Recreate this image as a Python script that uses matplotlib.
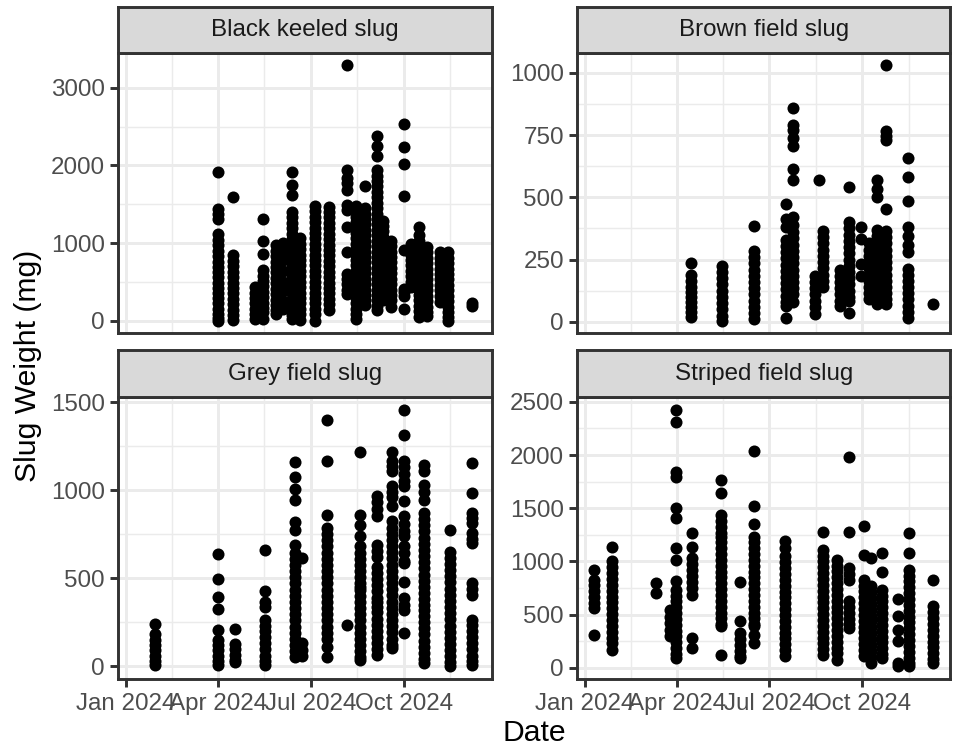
import numpy as np
import pandas as pd
import matplotlib
matplotlib.use('Agg')
import matplotlib.pyplot as plt
import matplotlib.dates as mdates
from matplotlib.ticker import FixedLocator

plt.rcParams['font.family'] = ['Liberation Sans', 'DejaVu Sans']

# ---- datos (peso en mg por fecha de muestreo) ----
black_dates = ['2024-04-01', '2024-04-15', '2024-05-07', '2024-05-15', '2024-05-28', '2024-06-04',
               '2024-06-13', '2024-06-21', '2024-07-05', '2024-07-19', '2024-08-06', '2024-08-15',
               '2024-08-24', '2024-09-05', '2024-09-10', '2024-09-18', '2024-10-01', '2024-10-08',
               '2024-10-16', '2024-10-24', '2024-11-06', '2024-11-14', '2024-12-07']
black_weights = [
    [1910, 1440, 1380, 1310, 1120, 1040, 980, 900, 830, 760, 690, 620, 560, 490, 420, 350, 290, 220, 150, 90, 30, 0],
    [1590, 840, 770, 700, 630, 560, 490, 420, 350, 280, 210, 140, 70, 10],
    [430, 360, 290, 220, 150, 80, 20],
    [1310, 1020, 860, 650, 580, 510, 440, 370, 300, 230, 160, 110, 20],
    [970, 900, 830, 760, 690, 620, 550, 480, 410, 340, 270, 200, 130, 90],
    [1000, 900, 780, 640, 500, 380, 250, 150],
    [1910, 1750, 1620, 1400, 1330, 1260, 1190, 1120, 1050, 980, 910, 840, 770, 700, 630, 560, 490, 420, 350, 280, 210, 140, 70, 20],
    [1060, 990, 920, 850, 780, 710, 640, 570, 500, 430, 360, 290, 220, 150, 80, 10],
    [1480, 1410, 1340, 1270, 1200, 1130, 1060, 990, 920, 850, 780, 710, 640, 570, 500, 430, 360, 290, 220, 150, 80, 0],
    [1470, 1400, 1330, 1260, 1190, 1120, 1050, 980, 910, 840, 770, 700, 630, 560, 490, 420, 350, 280, 210, 140],
    [3290, 1940, 1840, 1780, 1680, 1490, 1420, 1210, 890, 600, 540, 470, 400, 340],
    [1480, 1410, 1340, 1270, 1200, 1130, 1060, 990, 920, 850, 780, 710, 640, 570, 500, 430, 360, 290, 220, 150, 80, 20],
    [1730, 1450, 1380, 1310, 1240, 1170, 1100, 1030, 960, 890, 820, 750, 680, 610, 540, 470, 400, 330, 260, 200],
    [2380, 2250, 2120, 1940, 1870, 1800, 1730, 1660, 1590, 1520, 1450, 1380, 1310, 1240, 1170, 1100, 1030, 960, 890,
     820, 750, 680, 610, 540, 470, 400, 330, 260, 190, 130],
    [1290, 1220, 1150, 1080, 1010, 940, 870, 800, 730, 660, 590, 520, 450, 380, 310, 260],
    [1030, 960, 890, 820, 750, 680, 610, 540, 470, 400, 330, 260, 180],
    [2530, 2240, 2020, 1600, 910, 410, 370, 320, 150],
    [990, 920, 850, 780, 710, 640, 570, 500, 430],
    [1210, 1100, 1030, 960, 890, 820, 750, 680, 610, 540, 470, 400, 330, 260, 190, 120, 50],
    [950, 880, 810, 740, 670, 600, 530, 460, 390, 320, 250, 180, 110, 60],
    [880, 810, 740, 670, 600, 530, 460, 390, 320, 240],
    [880, 810, 740, 670, 600, 530, 460, 390, 320, 250, 180, 110, 40, 0],
    [230, 190],
]

brown_dates = ['2024-04-15', '2024-05-15', '2024-06-16', '2024-07-18', '2024-07-25', '2024-08-15',
               '2024-08-19', '2024-08-23', '2024-09-09', '2024-09-18', '2024-09-30', '2024-10-08',
               '2024-10-16', '2024-10-24', '2024-11-15', '2024-12-10']
brown_weights = [
    [236, 190, 165, 140, 120, 100, 80, 60, 40, 20],
    [225, 200, 175, 150, 125, 100, 75, 50, 25, 5],
    [385, 285, 260, 235, 210, 185, 160, 135, 110, 85, 60, 35, 10],
    [475, 415, 380, 330, 305, 280, 255, 230, 205, 180, 155, 130, 105, 80, 65, 15],
    [860, 790, 770, 740, 705, 615, 570, 420, 390, 360, 335, 310, 285, 260, 235, 210, 185, 160, 135, 110, 80],
    [185, 160, 135, 110, 85, 60, 30],
    [568],
    [365, 340, 315, 290, 265, 240, 215, 190, 165, 140],
    [210, 185, 160, 135, 110, 85, 63],
    [540, 400, 375, 350, 325, 300, 275, 250, 225, 200, 175, 150, 125, 100, 84, 36],
    [380, 333, 232, 185],
    [315, 290, 265, 240, 215, 190, 165, 140, 115, 90],
    [570, 535, 500, 370, 345, 320, 295, 270, 245, 220, 195, 170, 145, 120, 95, 70],
    [1030, 767, 745, 730, 452, 365, 340, 315, 290, 265, 240, 215, 190, 165, 140, 115, 90, 70],
    [657, 581, 485, 380, 345, 310, 280, 212, 190, 165, 140, 115, 90, 65, 40, 15],
    [70],
]

grey_dates = ['2024-01-29', '2024-04-01', '2024-04-17', '2024-05-17', '2024-06-16', '2024-06-23',
              '2024-07-17', '2024-08-06', '2024-08-19', '2024-09-05', '2024-09-19', '2024-10-01',
              '2024-10-21', '2024-11-16', '2024-12-07']
grey_weights = [
    [239, 180, 150, 120, 90, 60, 30, 8],
    [638, 495, 395, 323, 205, 150, 120, 90, 60, 30, 6],
    [211, 125, 95, 65, 35, 25],
    [659, 429, 366, 338, 262, 230, 200, 165, 130, 95, 60, 30, 6],
    [1158, 1073, 1006, 945, 816, 775, 689, 642, 610, 575, 540, 505, 470, 435, 400, 365, 330, 295, 260, 225,
     190, 155, 120, 85, 53],
    [613, 129, 90, 60],
    [1397, 1164, 860, 784, 750, 715, 680, 645, 610, 575, 540, 505, 470, 435, 400, 365, 330, 295, 260, 225,
     190, 155, 110, 53],
    [234],
    [1215, 860, 800, 740, 680, 645, 610, 575, 540, 505, 470, 452, 435, 400, 365, 330, 295, 260, 225, 190,
     155, 120, 85, 50, 34],
    [964, 930, 890, 850, 689, 655, 622, 566, 530, 495, 460, 425, 390, 366, 338, 305, 270, 235, 200, 165, 130, 95, 63],
    [1215, 1164, 1135, 1107, 1021, 990, 960, 907, 822, 787, 752, 717, 682, 647, 612, 577, 542, 507, 472, 437,
     402, 367, 332, 297, 262, 227, 192, 157, 122, 101],
    [1454, 1315, 1164, 1130, 1090, 1050, 1021, 936, 850, 810, 770, 737, 680, 640, 600, 585, 480, 385, 350, 319, 186],
    [1145, 1107, 1031, 990, 945, 870, 835, 800, 765, 730, 695, 660, 625, 590, 555, 520, 485, 450, 415, 380,
     345, 319, 285, 250, 215, 180, 145, 110, 75, 40, 20],
    [775, 651, 616, 581, 546, 511, 476, 441, 406, 371, 336, 301, 266, 231, 196, 161, 126, 91, 56, 21, 0],
    [1154, 983, 870, 840, 812, 755, 725, 699, 471, 440, 404, 262, 235, 200, 165, 130, 95, 60, 30, 6],
]

striped_dates = ['2024-01-10', '2024-01-28', '2024-03-11', '2024-03-25', '2024-03-31', '2024-04-16',
                 '2024-05-14', '2024-06-02', '2024-06-16', '2024-07-17', '2024-08-23', '2024-09-06',
                 '2024-09-18', '2024-10-03', '2024-10-10', '2024-10-21', '2024-11-05', '2024-11-16',
                 '2024-12-10']
striped_weights = [
    [922, 828, 775, 720, 665, 610, 563, 312],
    [1140, 1000, 945, 890, 835, 780, 725, 670, 615, 560, 505, 450, 395, 340, 285, 230, 172],
    [797, 703],
    [540, 480, 420, 360, 300],
    [2422, 2313, 1844, 1797, 1500, 1407, 1125, 1016, 812, 734, 680, 625, 570, 515, 460, 405, 350, 295, 240,
     185, 130, 94],
    [1266, 1140, 1031, 975, 920, 865, 810, 755, 687, 281, 187],
    [1766, 1641, 1437, 1380, 1320, 1266, 1234, 1180, 1125, 1070, 1015, 960, 905, 850, 795, 740, 685, 630,
     575, 520, 465, 410, 390, 125],
    [803, 437, 328, 273, 218, 163, 108, 94],
    [2038, 1522, 1350, 1234, 1180, 1125, 1070, 1015, 960, 905, 850, 795, 740, 685, 630, 575, 520, 465, 410,
     390, 312, 234],
    [1188, 1125, 1047, 992, 937, 882, 827, 772, 717, 662, 607, 552, 497, 442, 387, 332, 277, 222, 167, 109],
    [1281, 1110, 1055, 1000, 945, 890, 835, 780, 725, 670, 615, 560, 505, 450, 395, 340, 285, 230, 175, 125],
    [1016, 961, 906, 851, 796, 741, 686, 631, 576, 521, 466, 411, 356, 301, 246, 191, 136, 78],
    [1979, 1275, 938, 880, 828, 625, 570, 515, 460, 410, 375],
    [1334, 1063, 828, 773, 718, 663, 608, 553, 498, 443, 388, 333, 278, 223, 168, 109],
    [1031, 766, 711, 656, 601, 546, 491, 436, 381, 326, 271, 216, 161, 106, 47],
    [1084, 897, 734, 679, 624, 569, 514, 459, 404, 349, 294, 239, 184, 129, 94],
    [647, 484, 359, 250, 47, 20],
    [1266, 1078, 922, 867, 812, 757, 702, 647, 592, 537, 482, 427, 372, 317, 262, 207, 152, 97, 42, 16],
    [822, 578, 523, 468, 413, 358, 303, 248, 193, 138, 83, 47],
]

species = ['Black keeled slug', 'Brown field slug', 'Grey field slug', 'Striped field slug']
y_breaks = [[0, 1000, 2000, 3000],
            [0, 250, 500, 750, 1000],
            [0, 500, 1000, 1500],
            [0, 500, 1000, 1500, 2000, 2500]]
x_breaks = ['2023-10-01', '2024-01-01', '2024-04-01', '2024-07-01', '2024-10-01', '2025-01-01']
x_labels = ['Oct 2023', 'Jan 2024', 'Apr 2024', 'Jul 2024', 'Oct 2024', 'Jan 2025']

# tabla larga
filas = []
for nombre, fechas, pesos in zip(species,
                                 [black_dates, brown_dates, grey_dates, striped_dates],
                                 [black_weights, brown_weights, grey_weights, striped_weights]):
    for f, ws in zip(fechas, pesos):
        for w in ws:
            filas.append((nombre, pd.Timestamp(f), w))
df = pd.DataFrame(filas, columns=['species', 'date', 'weight'])
df['x'] = mdates.date2num(df['date'])

# escala x compartida (expansion 5% como ggplot)
x0, x1 = df['x'].min(), df['x'].max()
xlim = (x0 - 0.05 * (x1 - x0), x1 + 0.05 * (x1 - x0))
xb = mdates.date2num(pd.to_datetime(x_breaks))
x_major = [b for b in xb if xlim[0] <= b <= xlim[1]]
x_major_lab = [l for b, l in zip(xb, x_labels) if xlim[0] <= b <= xlim[1]]
x_minor = [(a + b) / 2 for a, b in zip(xb[:-1], xb[1:])]

W, H = 954, 751
DPI = 197
fig = plt.figure(figsize=(W / DPI, H / DPI), dpi=DPI)


def px_axes(l, t, r, b):
    return fig.add_axes([l / W, 1 - b / H, (r - l) / W, (b - t) / H])


# posiciones de paneles en pixeles: izquierda, arriba, derecha, abajo, arriba del strip
paneles = [(118.3, 52.7, 491.7, 333.3, 6.7),
           (577.3, 52.7, 950.0, 333.3, 6.7),
           (118.3, 397.3, 491.7, 679.0, 350.0),
           (577.3, 397.3, 950.0, 679.0, 350.0)]

borde = '#333333'
lw = 1.07

for i, (nombre, (l, t, r, b, st)) in enumerate(zip(species, paneles)):
    ax = px_axes(l, t, r, b)
    sub = df[df['species'] == nombre]
    ax.plot(sub['x'], sub['weight'], 'o', color='black', ms=4.4, mew=0, zorder=3)

    y0, y1 = sub['weight'].min(), sub['weight'].max()
    ylim = (y0 - 0.05 * (y1 - y0), y1 + 0.05 * (y1 - y0))
    ax.set_xlim(xlim)
    ax.set_ylim(ylim)

    yb = y_breaks[i]
    step = yb[1] - yb[0]
    ext = [yb[0] - step] + yb + [yb[-1] + step]
    y_minor = [(a + c) / 2 for a, c in zip(ext[:-1], ext[1:])]
    ax.yaxis.set_major_locator(FixedLocator(yb))
    ax.set_yticklabels([str(v) for v in yb])
    ax.yaxis.set_minor_locator(FixedLocator(y_minor))
    ax.xaxis.set_major_locator(FixedLocator(x_major))
    ax.xaxis.set_minor_locator(FixedLocator(x_minor))
    ax.set_xticklabels(x_major_lab)

    ax.set_axisbelow(True)
    ax.grid(which='major', color='#EBEBEB', lw=lw)
    ax.grid(which='minor', color='#EBEBEB', lw=lw / 2)
    for s in ax.spines.values():
        s.set_color(borde)
        s.set_linewidth(lw)
        s.set_zorder(4)
    ax.tick_params(which='major', length=2.75, width=lw, color=borde,
                   labelcolor='#4D4D4D', labelsize=8.8, pad=2.2)
    ax.tick_params(which='minor', length=0)
    if i < 2:
        ax.tick_params(axis='x', which='major', length=0, labelbottom=False)

    # strip
    sx = px_axes(l, st, r, t)
    sx.set_facecolor('#D9D9D9')
    sx.set_xticks([])
    sx.set_yticks([])
    for s in sx.spines.values():
        s.set_color(borde)
        s.set_linewidth(lw)
    sx.text(0.5, 0.5, nombre, transform=sx.transAxes, ha='center', va='center',
            fontsize=8.8, color='#1A1A1A')

fig.text(28 / W, 1 - 366 / H, 'Slug Weight (mg)', rotation=90, ha='center', va='center', fontsize=11)
fig.text(534 / W, 1 - 733 / H, 'Date', ha='center', va='center', fontsize=11)

fig.savefig('out.png', dpi=DPI)
